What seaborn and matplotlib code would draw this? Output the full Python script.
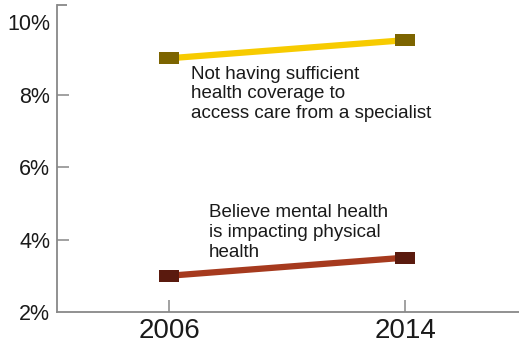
import matplotlib
matplotlib.use("Agg")
import matplotlib.pyplot as plt
import seaborn as sns
import pandas as pd
from matplotlib.path import Path

years = [2006, 2014]
coverage = [9.0, 9.5]
mental = [3.0, 3.5]
y_ticks = [2, 4, 6, 8, 10]
y_labels = ["2%", "4%", "6%", "8%", "10%"]
label_coverage = "Not having sufficient\nhealth coverage to\naccess care from a specialist"
label_mental = "Believe mental health\nis impacting physical\nhealth"

sns.set_style("white")
plt.rcParams['font.family'] = ['Liberation Sans', 'DejaVu Sans']

fig = plt.figure(figsize=(5.19, 3.51), dpi=100)
ax = fig.add_axes([57/519, 39/351, 462/519, 307/351])

rect = Path([(-1, -0.62), (1, -0.62), (1, 0.62), (-1, 0.62), (-1, -0.62)],
            [Path.MOVETO, Path.LINETO, Path.LINETO, Path.LINETO, Path.CLOSEPOLY])

df1 = pd.DataFrame({"year": years, "value": coverage})
df2 = pd.DataFrame({"year": years, "value": mental})
sns.lineplot(data=df1, x="year", y="value", ax=ax, color="#F7CB00", lw=4.5,
             marker=rect, markersize=14, markerfacecolor="#7C6400",
             markeredgecolor="#7C6400", markeredgewidth=0)
sns.lineplot(data=df2, x="year", y="value", ax=ax, color="#A63A1E", lw=4.5,
             marker=rect, markersize=14, markerfacecolor="#5A1A0E",
             markeredgecolor="#5A1A0E", markeredgewidth=0)

ax.set_xlim(2002.2, 2017.86)
ax.set_ylim(2, 10.47)
ax.set_xticks(years)
ax.set_xticklabels([str(y) for y in years], fontsize=20)
ax.set_yticks(y_ticks)
ax.set_yticklabels(y_labels, fontsize=15.5)
ax.set_yticks([10.47], minor=True)
ax.set_xlabel("")
ax.set_ylabel("")

for s in ["top", "right"]:
    ax.spines[s].set_visible(False)
for s in ["left", "bottom"]:
    ax.spines[s].set_color("#888888")
    ax.spines[s].set_linewidth(1.3)

ax.tick_params(axis="y", which="major", left=True, direction="in", length=8.6, width=1.1,
               color="#888888", pad=5, labelcolor="#1a1a1a")
ax.tick_params(axis="y", which="minor", left=True, direction="in", length=7, width=1.3,
               color="#888888")
ax.tick_params(axis="x", bottom=True, direction="in", length=8.6, width=1.1,
               color="#888888", pad=4, labelcolor="#1a1a1a")
ax.yaxis.get_major_ticks()[-1].tick1line.set_visible(False)
ax.yaxis.get_major_ticks()[0].tick1line.set_visible(False)

ax.text(2006.75, 8.8, label_coverage, fontsize=13.5, va="top", ha="left",
        linespacing=1.2, color="#1a1a1a")
ax.text(2007.35, 4.97, label_mental, fontsize=13.5, va="top", ha="left",
        linespacing=1.2, color="#1a1a1a")

fig.savefig("out.png", dpi=100)
